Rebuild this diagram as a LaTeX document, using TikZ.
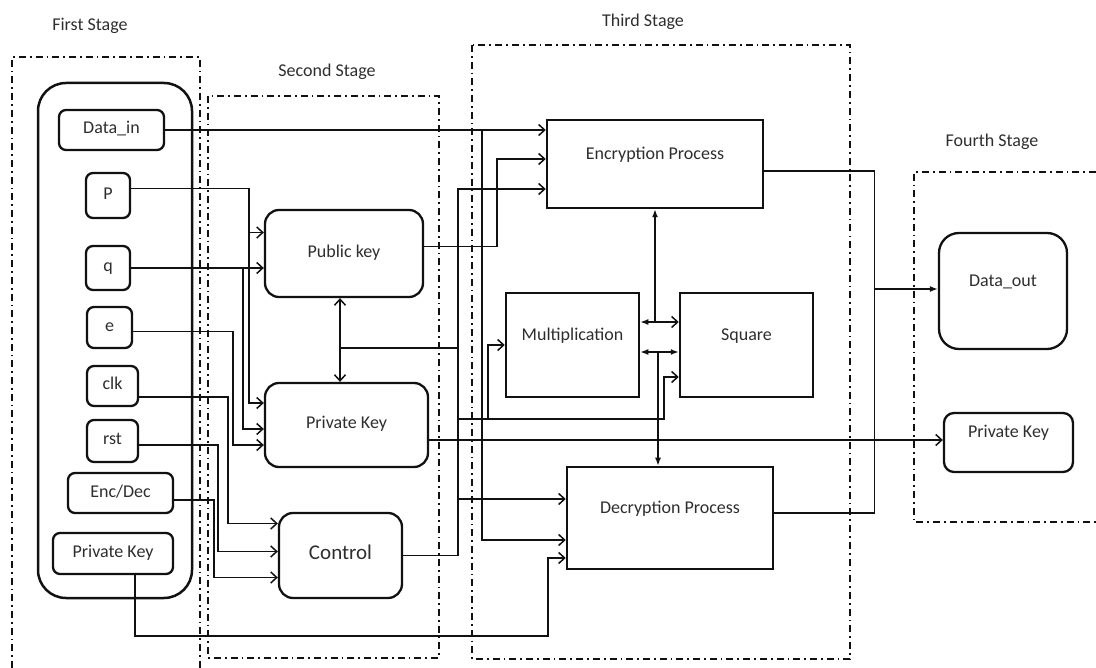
\documentclass[tikz,border=0pt]{standalone}
\usepackage{fontspec}
\setmainfont{Carlito}
\usetikzlibrary{arrows.meta,positioning}
\definecolor{inkcol}{HTML}{111111}
\definecolor{txtcol}{HTML}{2E2E2E}

\begin{document}
\begin{tikzpicture}[x=1pt,y=-1pt,font=\fontsize{18}{21}\selectfont,
    ibox/.style={draw=inkcol,line width=2.3pt,rounded corners=7pt,text=txtcol,inner sep=0pt,
      text height=12pt,text depth=4pt},
    kbox/.style={ibox,rounded corners=14pt},
    pbox/.style={draw=inkcol,line width=2.5pt,text=txtcol,inner sep=0pt,text height=12pt,text depth=21pt},
    stage/.style={inkcol,line width=1.7pt,dash pattern=on 7pt off 4pt on 1.7pt off 4pt},
    slabel/.style={text=txtcol},
    wire/.style={inkcol,line width=1.5pt},
    arr/.style={wire,-{Straight Barb[length=6pt,width=11pt]}},
    farr/.style={wire,-{Latex[length=8pt,width=6pt]}}]
    \useasboundingbox (0,0) rectangle (1096,668);
    \draw[stage] (12,668) -- (12,57) -- (200,57) -- (200,668);
    \draw[stage] (208,96) rectangle (439,658);
    \draw[stage] (472,45) rectangle (850,659);
    \draw[stage] (1096,172) -- (914,172) -- (914,522) -- (1096,522);
    \node[slabel](s1) at (90,26) {First Stage};
    \node[slabel](s2) at (327,72) {Second Stage};
    \node[slabel](s3) at (643,22) {Third Stage};
    \node[slabel](s4) at (992,142) {Fourth Stage};
    % first stage
    \node[draw=inkcol,line width=2.5pt,rounded corners=28pt,minimum width=154pt,minimum height=515pt](inbox) at (115,340.5) {};
    \node[ibox,minimum width=105pt,minimum height=40pt](din) at (111.5,130) {Data\_in};
    \node[ibox,minimum width=44pt,minimum height=45pt](np) at (108,195.5) {P};
    \node[ibox,minimum width=44pt,minimum height=44pt](nq) at (108,268) {q};
    \node[ibox,minimum width=45pt,minimum height=41pt](ne) at (109.5,327.5) {e};
    \node[ibox,minimum width=51pt,minimum height=40pt](nclk) at (112.5,386) {clk};
    \node[ibox,minimum width=51pt,minimum height=42pt](nrst) at (112.5,441) {rst};
    \node[ibox,minimum width=105pt,minimum height=40pt](encdec) at (120.5,493) {Enc/Dec};
    \node[ibox,minimum width=120pt,minimum height=41pt](pkin) at (113,553.5) {Private Key};
    % second stage
    \node[kbox,minimum width=158pt,minimum height=87pt](pub) at (344,253.5) {Public key};
    \node[kbox,minimum width=163pt,minimum height=84pt](priv) at (346.5,425) {Private Key};
    \node[kbox,minimum width=123pt,minimum height=85pt,font=\fontsize{21}{24}\selectfont](ctrl) at (340.5,555.5) {Control};
    % third stage
    \node[pbox,minimum width=216pt,minimum height=88pt](enc) at (655,164) {Encryption Process};
    \node[pbox,minimum width=133pt,minimum height=104pt](mul) at (572.5,345) {Multiplication};
    \node[pbox,minimum width=133pt,minimum height=104pt](sq) at (746.5,345) {Square};
    \node[pbox,minimum width=206pt,minimum height=102pt](dec) at (670,518) {Decryption Process};
    % fourth stage
    \node[ibox,rounded corners=20pt,text depth=21pt,minimum width=128pt,minimum height=116pt](dout) at (1003,291) {Data\_out};
    \node[ibox,rounded corners=10pt,text depth=21pt,minimum width=129pt,minimum height=59pt](pkout) at (1008.5,442.5) {Private Key};
    % inputs
    \coordinate (jd) at (din.east -| 482,0);
    \draw[arr](din.east) -- (din.east -| enc.west);
    \draw[arr](jd) |- ([yshift=-22pt]dec.west);
    \draw[arr]([yshift=7pt]np.east) -- ++(118,0) |- ([yshift=21pt]pub.west);
    \draw[arr]([yshift=7pt]np.east) -- ++(118,0) |- ([yshift=22pt]priv.west);
    \draw[arr](nq.east) -- (nq.east -| pub.west);
    \draw[arr](nq.east) -- ++(112,0) |- ([yshift=-4pt]priv.west);
    \draw[arr]([yshift=-4pt]ne.east) -- ++(100,0) |- ([yshift=-20pt]priv.west);
    \draw[arr]([yshift=-11pt]nclk.east) -- ++(89,0) |- ([yshift=32pt]ctrl.west);
    \draw[arr]([yshift=-4pt]nrst.east) -- ++(79,0) |- ([yshift=4pt]ctrl.west);
    \draw[arr]([yshift=-7pt]encdec.east) -- ++(40,0) |- ([yshift=-22pt]ctrl.west);
    \draw[arr]([xshift=22pt]pkin.south) |- (548,636) |- ([yshift=-40pt]dec.west);
    % keys and control
    \draw[arr]([yshift=7pt]pub.east) -- ++(73,0) |- ([yshift=5pt]enc.west);
    \draw[wire,{Straight Barb[length=6pt,width=11pt]}-{Straight Barb[length=6pt,width=11pt]}]
      ([xshift=-4pt]pub.south) -- ([xshift=-4pt]pub.south |- priv.north);
    \draw[wire]([xshift=-4pt,yshift=-50pt]pub.south) -- ++(117,0);
    \coordinate (cbus) at (457,419);
    \draw[arr](ctrl.east) -- ++(55,0) |- ([yshift=-25pt]enc.west);
    \draw[arr](ctrl.east) -- ++(55,0) |- ([yshift=19pt]dec.west);
    \draw[arr](cbus) -| ([xshift=-15pt,yshift=-32pt]sq.west) -- ([yshift=-32pt]sq.west);
    \draw[arr](cbus -| 488,0) |- (mul.west);
    \draw[arr]([yshift=-15pt]priv.east) -- ([yshift=-15pt]priv.east -| pkout.west);
    % process core
    \coordinate (dtop) at ([xshift=-12pt]dec.north);
    \draw[farr](enc.south |- 0,322) -- (enc.south);
    \draw[wire,{Latex[length=8pt,width=6pt]}-{Straight Barb[length=6pt,width=11pt]}](mul.east |- 0,322) -- (sq.west |- 0,322);
    \draw[wire,{Latex[length=8pt,width=6pt]}-{Latex[length=8pt,width=6pt]}](mul.east |- 0,352) -- (sq.west |- 0,352);
    \draw[farr](dtop |- 0,352) -- (dtop);
    % outputs
    \coordinate (jo) at ([xshift=110pt,yshift=-125pt]enc.east);
    \draw[wire]([yshift=-7pt]enc.east) -- ++(110,0) |- ([yshift=5pt]dec.east);
    \draw[farr](jo) -- (jo -| dout.west);
\end{tikzpicture}
\end{document}
